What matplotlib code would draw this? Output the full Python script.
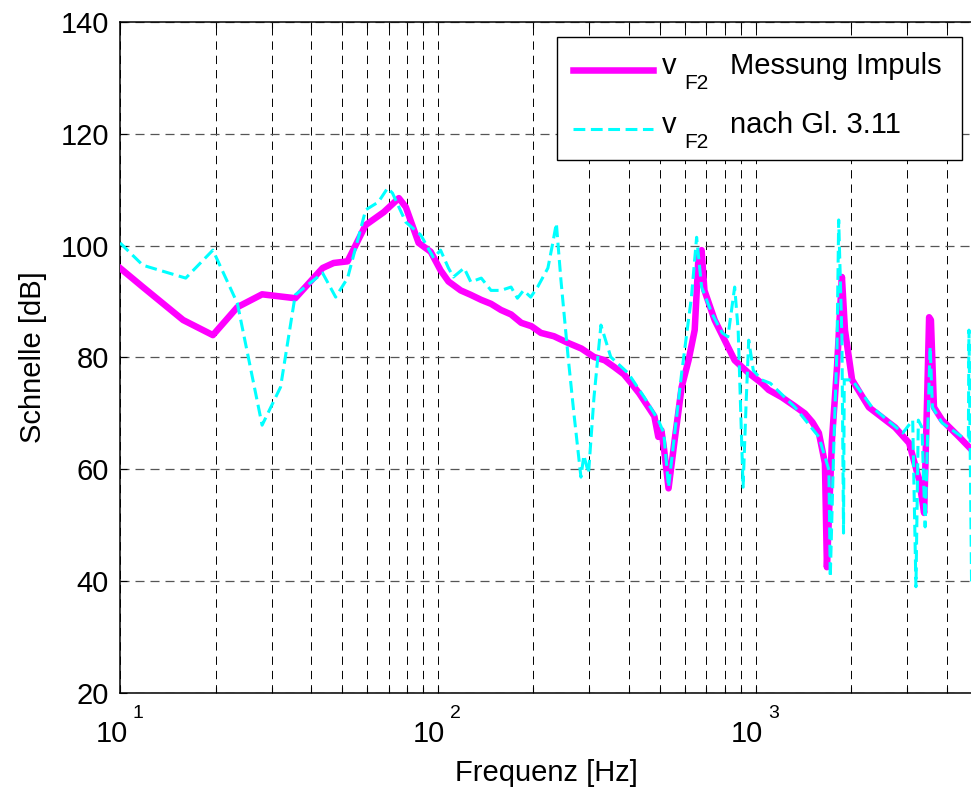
import matplotlib
matplotlib.use("Agg")
import matplotlib.pyplot as plt
from matplotlib.patches import Rectangle
from matplotlib.legend_handler import HandlerLine2D
import matplotlib.transforms as mtransforms

plt.rcParams['font.family'] = ['Liberation Sans', 'DejaVu Sans']
plt.rcParams['lines.scale_dashes'] = False

# --- data ---
freq_mess = [10, 11.8, 15.8, 19.6, 23.4, 28, 35.6, 43.4, 47, 52, 59.3, 67.6, 75.4, 79.3,
             87, 95, 102, 108, 118, 127, 137, 147, 158, 170, 183, 197, 211, 232, 257, 283,
             310, 335, 359, 385, 406, 430, 460, 480, 494, 505, 514, 532, 556, 585, 615, 643,
             661, 676, 690, 743, 799, 859, 951, 1045, 1099, 1208, 1320, 1428, 1510, 1581,
             1652, 1676, 1738, 1803, 1868, 1910, 2011, 2271, 2746, 3041, 3269, 3389, 3463,
             3514, 3560, 3639, 3861, 4367, 4800]
db_mess = [96, 92.6, 86.7, 84.0, 89.0, 91.3, 90.6, 96.0, 96.9, 97.2, 103.7, 106, 108.5, 106.9,
           100.5, 98.9, 95.6, 93.6, 92, 91.2, 90.3, 89.6, 88.5, 87.7, 86.2, 85.6, 84.4, 83.8, 82.6, 81.6,
           80.1, 79.5, 78.3, 77.0, 75.4, 73.6, 71.1, 69.5, 65.8, 67.0, 64, 56.6, 65.2, 74.7, 79.5, 84.9,
           98, 99.2, 92, 86.7, 83.1, 79.5, 77.2, 75.4, 74.2, 72.9, 71.4, 70, 68.4, 66.5,
           61.1, 42.5, 65.2, 78.3, 94.4, 84.9, 76, 71.1, 67.5, 64.7, 58.1, 52.2, 72.4,
           87.2, 86.7, 71.1, 68.8, 65.8, 63.4]

freq_gl = [10, 11.8, 16.1, 19.6, 23.4, 28, 32, 35.6, 43.4, 47.7, 52, 59.3, 65, 69.5, 72,
           79.3, 88.4, 97, 102, 108, 112, 121, 127, 137, 147, 158, 170, 178, 186, 196, 206,
           222, 230, 236, 244, 257, 268, 282, 288, 298, 310, 326, 350, 397, 446, 494, 514,
           532, 550, 585, 628, 652, 676, 728, 785, 818, 859, 881, 913, 934, 951, 983, 1045,
           1112, 1330, 1581, 1700, 1717, 1761, 1803, 1825, 1868, 1890, 1900, 2011, 2325,
           2904, 3120, 3194, 3250, 3336, 3414, 3514, 3540, 3600, 3861, 4460, 4670, 4690, 4780]
db_gl = [100.5, 96.5, 94.2, 99.2, 89.7, 67.9, 74.7, 91.2, 95.1, 90.8, 94.2, 106.4, 107.8, 110.3, 109.4,
         104.2, 101.9, 97.8, 99.2, 96, 94.4, 96, 93.5, 94.2, 92, 92, 92.6, 90.6, 92, 90.8, 92.6,
         96, 100.5, 104, 93.8, 80.1, 70, 58.6, 62.5, 59.3, 72.9, 85.8, 80.1, 77.2, 72.9, 68.8, 66.5,
         56.8, 64, 77.2, 90.8, 101.5, 92.6, 87.9, 84.4, 83.7, 92.6, 84.9, 56.8, 72.4, 83.1, 77.7, 76,
         75.4, 71.1, 65.8, 59.9, 40.7, 64, 81.9, 104.6, 83.7, 48.6, 76, 76, 71.1,
         66.5, 68.8, 39, 68.8, 67.5, 49.7, 76, 81.9, 71.1, 68.3, 65.8, 65.8, 84.9, 39]

legend_symbol = 'v'
legend_sub = 'F2'
legend_texts = ['Messung Impuls', 'nach Gl. 3.11']
xlabel = 'Frequenz [Hz]'
ylabel = 'Schnelle [dB]'
yticks = [20, 40, 60, 80, 100, 120, 140]
xticks_major = [10, 100, 1000]
xtick_exps = ['1', '2', '3']

W, H = 971, 789
fig = plt.figure(figsize=(W / 100, H / 100), dpi=100)
left_px, right_px, top_px, bot_px = 120, 977.8, 22, 693
ax = fig.add_axes([left_px / W, 1 - bot_px / H, (right_px - left_px) / W, (bot_px - top_px) / H])

l1, = ax.plot(freq_mess, db_mess, color='#FF00FF', lw=4.7, solid_joinstyle='round',
              label=legend_symbol, zorder=3)
l2, = ax.plot(freq_gl, db_gl, color='#00FFFF', lw=2.2, linestyle=(0, (8.5, 4.0)),
              label=legend_symbol, zorder=4)

ax.set_xscale('log')
ax.set_xlim(10, 5000)
ax.set_ylim(20, 140)
ax.set_yticks(yticks)
ax.set_xticks(xticks_major)
ax.set_xticklabels([''] * len(xticks_major))

ax.grid(True, which='major', axis='y', color='#555555', lw=0.9, linestyle=(0, (6.5, 4.3)))
ax.grid(True, which='both', axis='x', color='black', lw=0.7, linestyle=(0, (6.0, 4.3)))

for s in ['left', 'bottom', 'top']:
    ax.spines[s].set_linewidth(1.1)
ax.spines['right'].set_visible(False)

ax.tick_params(which='both', direction='in', top=True, right=True, labelsize=21,
               width=0.8, color='black')
ax.tick_params(which='major', length=5)
ax.tick_params(which='minor', length=4)
ax.tick_params(axis='y', which='major', pad=8)

# MATLAB-style 10^n tick labels
trans = mtransforms.blended_transform_factory(ax.transData, ax.transAxes)
for xv, e in zip(xticks_major, xtick_exps):
    ax.annotate('10', xy=(xv, 0), xycoords=trans, xytext=(5.5, -35.3),
                textcoords='offset points', ha='right', va='baseline', fontsize=21,
                annotation_clip=False)
    ax.annotate(e, xy=(xv, 0), xycoords=trans, xytext=(9.0, -18.0),
                textcoords='offset points', ha='left', va='baseline', fontsize=14,
                annotation_clip=False)

ax.set_xlabel(xlabel, fontsize=21)
ax.xaxis.label.set_va('baseline')
ax.xaxis.set_label_coords(0.497, -(781 - 693) / (bot_px - top_px))
ax.set_ylabel(ylabel, fontsize=21, labelpad=10)


class LowHandler(HandlerLine2D):
    """Legend line drawn a little lower, as in the MATLAB legend."""
    def create_artists(self, legend, orig_handle, xdescent, ydescent, width, height,
                       fontsize, trans):
        return super().create_artists(legend, orig_handle, xdescent, ydescent + 8.9,
                                      width, height, fontsize, trans)


leg = ax.legend(loc='upper left', bbox_to_anchor=(573 / W, 1 - 52 / H),
                bbox_transform=fig.transFigure, borderaxespad=0, borderpad=0,
                fontsize=21, frameon=False, handlelength=2.74, handletextpad=0.31,
                labelspacing=1.055,
                handler_map={l1: LowHandler(), l2: LowHandler()})
leg.set_zorder(6)
frame = Rectangle((557 / W, 1 - 160 / H), (962 - 557) / W, (160 - 37) / H,
                  transform=fig.transFigure, facecolor='white', edgecolor='black',
                  lw=1.0, zorder=5.5, clip_on=False)
ax.add_patch(frame)

fig.canvas.draw()
renderer = fig.canvas.get_renderer()
em_px = 21 * 100 / 72
for t, desc in zip(leg.get_texts(), legend_texts):
    bb = t.get_window_extent(renderer)
    baseline = bb.y0 + 0.212 * em_px
    fig.text((bb.x0 + 22) / W, (baseline - 15) / H, legend_sub, fontsize=15,
             ha='left', va='baseline', zorder=7)
    fig.text((bb.x0 + 68) / W, baseline / H, desc, fontsize=21,
             ha='left', va='baseline', zorder=7)

fig.savefig('out.png', dpi=100)
